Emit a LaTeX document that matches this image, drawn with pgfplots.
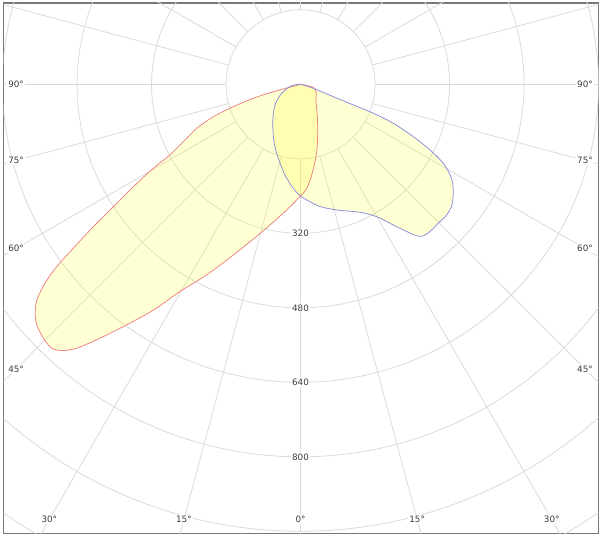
\documentclass[border=0pt]{standalone}
\usepackage{pgfplots}
\pgfplotsset{compat=1.18}
\usepackage{pgfplotstable}
\usepackage{fontspec}
\newfontfamily\labfont{DejaVu Sans}
\definecolor{gridc}{RGB}{218,218,218}
\definecolor{framec}{RGB}{120,120,120}
\definecolor{redc}{RGB}{238,128,128}
\definecolor{bluec}{RGB}{138,138,222}
\definecolor{labc}{RGB}{60,60,60}
\definecolor{fillc}{RGB}{255,255,40}

% photometric angle gamma (0 = nadir, + to the right), intensity I in cd
\pgfplotstableread{
gamma I
-85 0
-74.8 61
-73.5 106
-71.6 152
-69.6 200
-67.0 242
-63.9 280
-61.6 319
-60.3 364
-58.5 421
-56.8 480
-55.5 540
-54.2 602
-53.2 654
-52.1 696
-50.7 732
-49.2 753
-47.6 767
-45.4 776
-43.3 779
-41.7 766
-40.3 743
-38.6 702
-36.2 645
-33.1 579
-30.2 515
-26.2 456
-21.5 394
-15.2 332
-7.6 279
0 240
3.4 224
6.8 198
12.1 159
17.0 125
26.3 82
44.6 47
60.6 39
76.8 28
85 0
}\redtable

\pgfplotstableread{
gamma I
-90 0
-81.0 19
-64.4 45
-50.9 71
-36.6 100
-24.8 136
-16.7 166
-9.7 198
-4.0 224
0 240
4.6 253
9.1 266
16.1 281
24.9 303
29.9 328
33.4 362
35.8 390
37.5 410
39.0 419
42.0 421
44.8 420
48.2 421
51.4 416
54.9 401
58.1 382
61.0 351
63.1 312
65.1 267
67.2 216
68.3 168
68.6 122
69.3 75
72.6 29
80 0
}\bluetable

\begin{document}
\begin{tikzpicture}[lab/.style={font=\labfont\fontsize{8.8}{10}\selectfont, text=labc, fill=white, inner sep=1pt}]
\path (0,0) rectangle (602pt,538pt);
\begin{axis}[
  at={(3.5pt,4.5pt)}, anchor=south west,
  scale only axis, width=595pt, height=530.5pt,
  xmin=-638, xmax=640, ymin=-964.7, ymax=174.6,
  ticks=none,
  axis line style={draw=framec, line width=1.6pt},
  clip=true,
]
% grid circles
\pgfplotsinvokeforeach{160,320,480,640,800,960,1120}{
  \draw[gridc, line width=0.8pt] (axis cs:0,0) circle[radius=#1];
}
% radial lines
\pgfplotsinvokeforeach{0,15,30,45,60,75,90,105,120,135,150,165,180,195,210,225,240,255,270,285,300,315,330,345}{
  \draw[gridc, line width=0.8pt] (axis cs:{160*cos(#1)},{160*sin(#1)}) -- (axis cs:{1500*cos(#1)},{1500*sin(#1)});
}
% fills
\addplot[draw=none, fill=fillc, fill opacity=0.2, data cs=polar, smooth, tension=0.5]
  table[x expr=\thisrow{gamma}-90, y=I] {\redtable};
\addplot[draw=none, fill=fillc, fill opacity=0.2, data cs=polar, smooth, tension=0.5]
  table[x expr=\thisrow{gamma}-90, y=I] {\bluetable};
% outlines
\addplot[redc, line width=0.75pt, data cs=polar, smooth, tension=0.5]
  table[x expr=\thisrow{gamma}-90, y=I] {\redtable};
\addplot[bluec, line width=0.75pt, data cs=polar, smooth, tension=0.5]
  table[x expr=\thisrow{gamma}-90, y=I] {\bluetable};
% labels
\node[lab] at (axis cs:0,-320) {320};
\node[lab] at (axis cs:0,-480) {480};
\node[lab] at (axis cs:0,-640) {640};
\node[lab] at (axis cs:0,-800) {800};
\node[lab] at (axis cs:-611,0) {90°};
\node[lab] at (axis cs:-611,-163.7) {75°};
\node[lab] at (axis cs:-611,-352.8) {60°};
\node[lab] at (axis cs:-611,-611) {45°};
\node[lab] at (axis cs:611,0) {90°};
\node[lab] at (axis cs:611,-163.7) {75°};
\node[lab] at (axis cs:611,-352.8) {60°};
\node[lab] at (axis cs:611,-611) {45°};
\node[lab] at (axis cs:-539.6,-934.7) {30°};
\node[lab] at (axis cs:-250.5,-934.7) {15°};
\node[lab] at (axis cs:0,-934.7) {0°};
\node[lab] at (axis cs:250.5,-934.7) {15°};
\node[lab] at (axis cs:539.6,-934.7) {30°};
\end{axis}
\end{tikzpicture}
\end{document}
